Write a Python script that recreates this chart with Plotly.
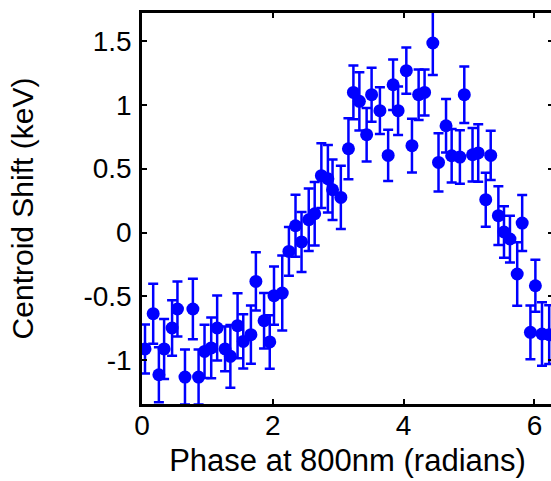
import plotly.graph_objects as go

phase = [0.046, 0.171, 0.258, 0.338, 0.460, 0.542, 0.657, 0.778, 0.865, 0.956,
         1.058, 1.149, 1.270, 1.351, 1.461, 1.548, 1.665, 1.741, 1.866, 1.953,
         2.018, 2.144, 2.246, 2.347, 2.439, 2.549, 2.640, 2.742, 2.842, 2.913,
         3.040, 3.156, 3.232, 3.323, 3.434, 3.510, 3.637, 3.763, 3.839, 3.915,
         4.041, 4.127, 4.229, 4.320, 4.446, 4.533, 4.648, 4.734, 4.860, 4.927,
         5.053, 5.140, 5.255, 5.331, 5.448, 5.534, 5.625, 5.736, 5.812, 5.938,
         6.014, 6.115, 6.225]

shift = [-0.912, -0.636, -1.114, -0.912, -0.748, -0.599, -1.132, -0.599, -1.132, -0.931,
         -0.904, -0.748, -0.912, -0.970, -0.730, -0.853, -0.800, -0.383, -0.691, -0.857,
         -0.495, -0.474, -0.148, 0.053, -0.074, 0.100, 0.147, 0.445, 0.421, 0.335,
         0.275, 0.656, 1.097, 1.027, 0.766, 1.079, 0.954, 0.604, 1.157, 0.954,
         1.267, 0.680, 1.079, 1.097, 1.484, 0.549, 0.836, 0.601, 0.591, 1.079,
         0.609, 0.623, 0.257, 0.604, 0.132, 0.004, -0.051, -0.325, 0.074, -0.782,
         -0.417, -0.795, -0.800]

err = [0.192, 0.235, 0.215, 0.235, 0.218, 0.215, 0.215, 0.237, 0.215, 0.209,
       0.238, 0.254, 0.175, 0.245, 0.254, 0.212, 0.228, 0.228, 0.218, 0.209,
       0.228, 0.293, 0.191, 0.243, 0.235, 0.245, 0.248, 0.254, 0.265, 0.237,
       0.248, 0.238, 0.211, 0.228, 0.209, 0.211, 0.183, 0.201, 0.197, 0.190,
       0.181, 0.211, 0.197, 0.180, 0.250, 0.228, 0.210, 0.210, 0.210, 0.222,
       0.210, 0.225, 0.211, 0.193, 0.230, 0.201, 0.183, 0.248, 0.219, 0.211,
       0.204, 0.248, 0.230]

x_ticks = [0, 2, 4, 6]
y_ticks = [-1, -0.5, 0, 0.5, 1, 1.5]
y_labels = ["-1", "-0.5", "0", "0.5", "1", "1.5"]

fig = go.Figure(go.Scatter(
    x=phase, y=shift, mode="markers",
    marker=dict(color="#0000FF", size=13, symbol="circle"),
    error_y=dict(type="data", array=err, visible=True, color="#0000FF",
                 thickness=2.5, width=5),
    hoverinfo="skip",
))

font = "Liberation Sans, Arial, Helvetica, sans-serif"
fig.update_layout(
    width=557, height=481,
    margin=dict(l=142, r=1, t=13, b=77),
    paper_bgcolor="white", plot_bgcolor="white",
    showlegend=False,
    font=dict(family=font, color="black", size=28),
)
fig.update_xaxes(
    range=[0, 6.2832], tickvals=x_ticks, ticks="inside", ticklen=5, tickwidth=1.5,
    tickcolor="black", showline=True, linecolor="black", linewidth=2.5,
    mirror="ticks", showgrid=False, zeroline=False,
    tickfont=dict(size=28), ticklabelstandoff=-5,
    title=dict(text="Phase at 800nm (radians)", font=dict(size=31), standoff=9),
)
fig.update_yaxes(
    range=[-1.343, 1.719], tickvals=y_ticks, ticktext=y_labels, ticks="inside",
    ticklen=5, tickwidth=1.5, tickcolor="black", showline=True, linecolor="black",
    linewidth=2.5, mirror="ticks", showgrid=False, zeroline=False,
    tickfont=dict(size=28), ticklabelstandoff=2,
    title=dict(text="Centroid Shift (keV)", font=dict(size=30), standoff=41),
)

fig.write_html(
    "out.html",
    config={"displayModeBar": False},
    post_script=("document.body.style.margin='0';document.body.style.padding='0';"
                 "document.body.style.overflow='hidden';"
                 "document.documentElement.style.overflow='hidden';"),
)
